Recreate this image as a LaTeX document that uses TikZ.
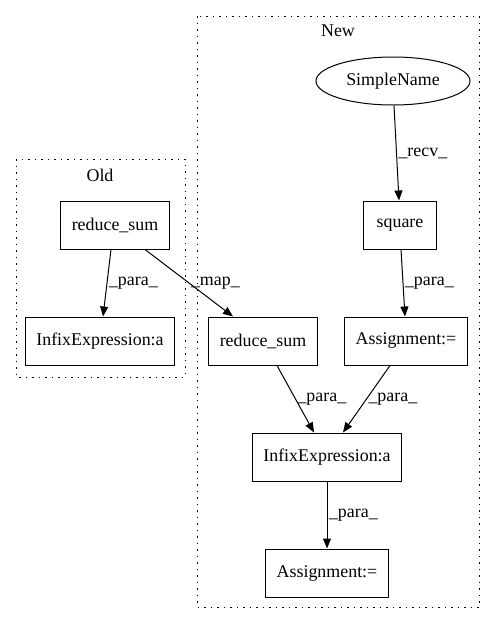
\documentclass[tikz,border=0pt]{standalone}
\usepackage{fontspec}
\setmainfont{Liberation Serif}
\usetikzlibrary{arrows.meta,shapes.geometric}

\tikzset{
  stmt/.style={draw, line width=1pt, rectangle, minimum height=48pt, inner xsep=11pt},
  oval/.style={draw, line width=1pt, ellipse, minimum width=154pt, minimum height=48pt, inner sep=0pt},
  flow/.style={line width=1pt, -{Triangle[length=10pt,width=8pt]}},
  tag/.style={midway, right, inner sep=1.5pt},
  cluster/.style={line width=1pt, dash pattern=on 1.5pt off 5pt}
}

\begin{document}
\begin{tikzpicture}[x=1pt, y=-1pt, font=\fontsize{17.9}{20}\selectfont]
    \useasboundingbox (0,0) rectangle (496,624);

    % clusters
    \draw[cluster] (16,159) rectangle (185,377);
    \node (oldlabel) at (100,175) {Old};
    \draw[cluster] (197,16) rectangle (479,607);
    \node (newlabel) at (338,31) {New};

    % Old
    \node[stmt] (oldsum) at (115,225) {reduce\_sum};
    \node[stmt] (oldinfix) at (100,341) {InfixExpression:a};

    % New
    \node[oval] (simplename) at (393,81) {SimpleName};
    \node[stmt, minimum width=73pt] (square) at (400,225) {square};
    \node[stmt] (newsum) at (263,341) {reduce\_sum};
    \node[stmt] (assign) at (406,341) {Assignment:=};
    \node[stmt] (newinfix) at (327,457) {InfixExpression:a};
    \node[stmt] (assignb) at (327,573) {Assignment:=};

    % edges
    \draw[flow] (oldsum.south -| 111,0) -- (oldinfix.north -| 103,0) node[tag] {\_para\_};
    \draw[flow] (oldsum.south -| 145,0) -- (newsum.north -| 233,0) node[tag] {\_map\_};
    \draw[flow] (simplename.south -| 394,0) -- (square.north -| 399,0) node[tag] {\_recv\_};
    \draw[flow] (square.south -| 401,0) -- (assign.north -| 405,0) node[tag] {\_para\_};
    \draw[flow] (newsum.south -| 277,0) -- (newinfix.north -| 314,0) node[tag] {\_para\_};
    \draw[flow] (assign.south -| 390,0) -- (newinfix.north -| 343,0) node[tag] {\_para\_};
    \draw[flow] (newinfix.south) -- (assignb.north) node[tag] {\_para\_};
\end{tikzpicture}
\end{document}
